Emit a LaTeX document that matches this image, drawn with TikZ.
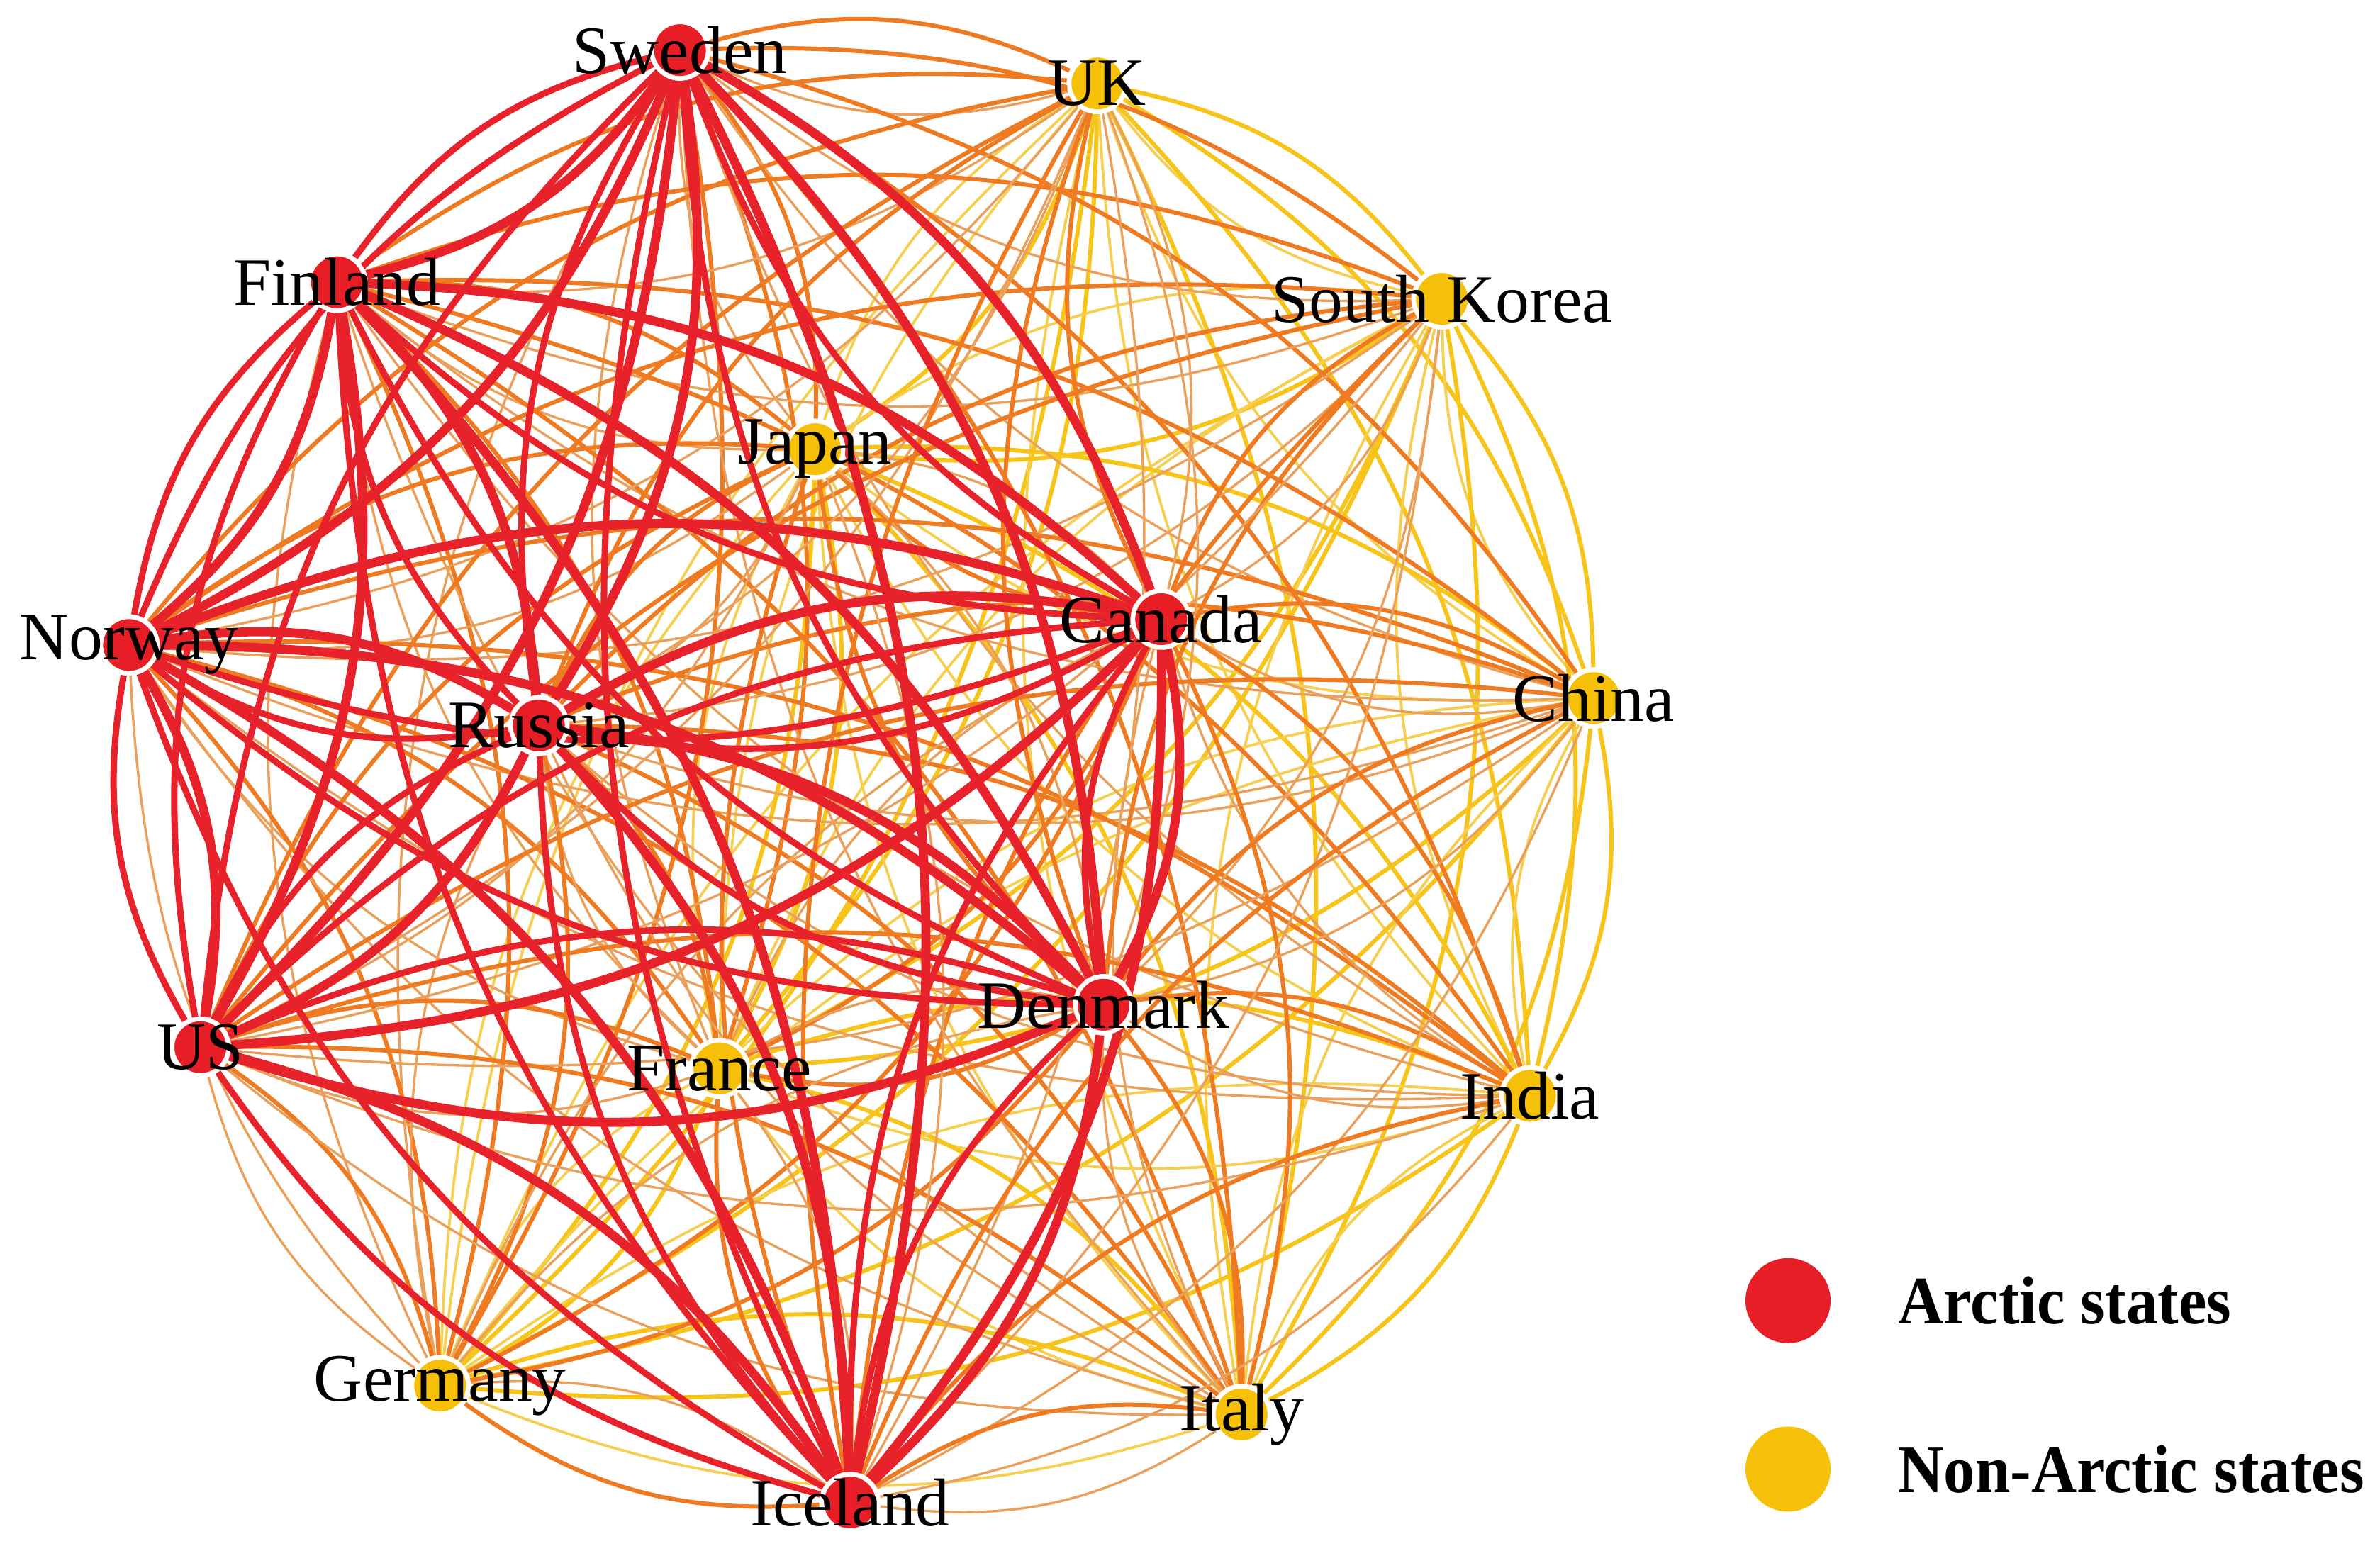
\documentclass[tikz,border=0pt]{standalone}
\usepackage{fontspec}
\setmainfont{Liberation Serif}
\definecolor{nodered}{RGB}{232,30,38}
\definecolor{nodeyellow}{RGB}{247,192,8}
\definecolor{edgered}{RGB}{232,34,42}
\definecolor{edgeorange}{RGB}{238,122,34}
\definecolor{edgetan}{RGB}{234,160,90}
\definecolor{edgeyellow}{RGB}{246,196,26}
\definecolor{edgelyellow}{RGB}{246,206,80}
\pgfdeclarelayer{edges}
\pgfsetlayers{edges,main}
\begin{document}
\begin{tikzpicture}[x=0.01cm,y=-0.01cm,
  lab/.style={font=\fontsize{12.7}{14}\selectfont, inner sep=0pt},
  arctic/.style={circle, fill=nodered, draw=white, line width=0.8pt, minimum size=0.37cm, inner sep=0pt, outer sep=0.5pt},
  nonarctic/.style={circle, fill=nodeyellow, draw=white, line width=0.8pt, minimum size=0.37cm, inner sep=0pt, outer sep=0.5pt},
  rrA/.style={draw=edgered, line width=1.7pt},
  rrB/.style={draw=edgered, line width=1.2pt},
  ryA/.style={draw=edgeorange, line width=0.8pt},
  ryB/.style={draw=edgetan, line width=0.45pt},
  yyA/.style={draw=edgeyellow, line width=0.8pt},
  yyB/.style={draw=edgelyellow, line width=0.5pt},
  legdot/.style={circle, minimum size=0.56cm, inner sep=0pt},
  legtext/.style={font=\fontsize{11.8}{14}\bfseries\selectfont, inner sep=0pt, anchor=west, yscale=1.08}
]
\useasboundingbox (0,0) rectangle (1568,1033);

% Arctic states
\node[arctic, label={[lab]center:Sweden}] (sw) at (448,33) {};
\node[arctic, label={[lab]center:Finland}] (fi) at (222,186) {};
\node[arctic, label={[lab]center:Norway}] (no) at (85,425) {};
\node[arctic, label={[lab]center:Canada}] (ca) at (765,408) {};
\node[arctic, label={[lab]center:Russia}] (ru) at (355,478) {};
\node[arctic, label={[lab]center:Denmark}] (dk) at (727,662) {};
\node[arctic, label={[lab]center:US}] (us) at (132,690) {};
\node[arctic, label={[lab]center:Iceland}] (ic) at (560,990) {};
% Non-Arctic states
\node[nonarctic, label={[lab]center:UK}] (uk) at (723,55) {};
\node[nonarctic, label={[lab]center:South Korea}] (sk) at (950,197) {};
\node[nonarctic, label={[lab]center:Japan}] (jp) at (537,296) {};
\node[nonarctic, label={[lab]center:China}] (cn) at (1050,460) {};
\node[nonarctic, label={[lab]center:France}] (fr) at (474,704) {};
\node[nonarctic, label={[lab]center:India}] (ind) at (1008,722) {};
\node[nonarctic, label={[lab]center:Germany}] (de) at (290,913) {};
\node[nonarctic, label={[lab]center:Italy}] (it) at (818,932) {};

\begin{pgfonlayer}{edges}
% yellow - yellow
\foreach \a [count=\i] in {uk,sk,jp,cn,fr,ind,de,it} {
  \foreach \b [count=\j] in {uk,sk,jp,cn,fr,ind,de,it} {
    \ifnum\i<\j
      \draw[yyB] (\a) to[bend right=20] (\b);
      \draw[yyA] (\a) to[bend left=20] (\b);
    \fi
  }
}
% red - yellow
\foreach \a in {sw,fi,no,ru,ca,dk,us,ic} {
  \foreach \b in {uk,sk,jp,cn,fr,ind,de,it} {
    \draw[ryB] (\a) to[bend right=20] (\b);
    \draw[ryA] (\a) to[bend left=20] (\b);
  }
}
% red - red
\foreach \a [count=\i] in {sw,fi,no,ru,ca,dk,us,ic} {
  \foreach \b [count=\j] in {sw,fi,no,ru,ca,dk,us,ic} {
    \ifnum\i<\j
      \draw[rrB] (\a) to[bend right=20] (\b);
      \draw[rrA] (\a) to[bend left=20] (\b);
    \fi
  }
}
\end{pgfonlayer}

% legend
\node[legdot, fill=nodered] (legA) at (1178,857) {};
\node[legtext] (legAt) at (1250,857) {Arctic states};
\node[legdot, fill=nodeyellow] (legN) at (1178,968) {};
\node[legtext] (legNt) at (1250,968) {Non-Arctic states};
\end{tikzpicture}
\end{document}
